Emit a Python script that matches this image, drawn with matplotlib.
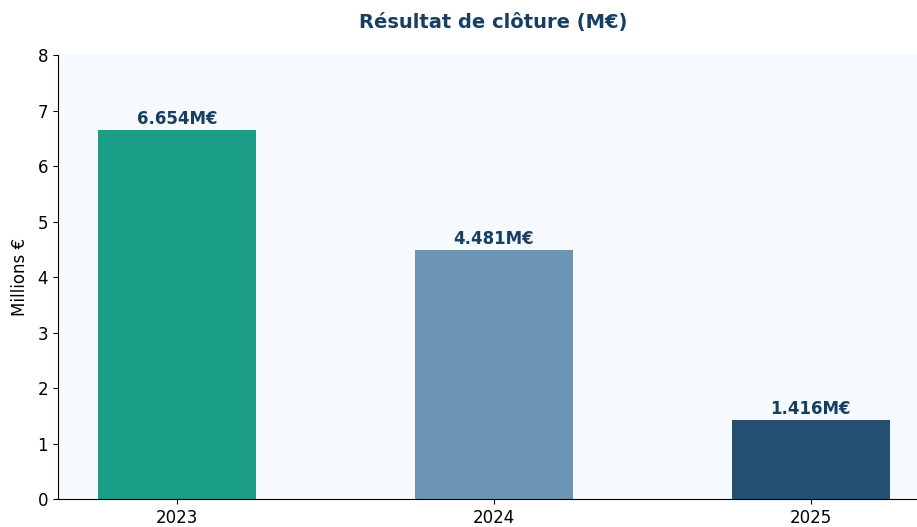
import matplotlib
matplotlib.use("Agg")
import matplotlib.pyplot as plt

# ── Données ─────────────────────────────────────────────────────────────
annees = ["2023", "2024", "2025"]
resultat = [6.654, 4.481, 1.416]
couleurs = ["#1A9E87", "#6B95B2", "#244F71"]

# ── Figure ─────────────────────────────────────────────────────────────
fig = plt.figure(figsize=(9.17, 5.27), dpi=100)
ax = fig.add_axes([0.0632, 0.0531, 0.9507, 0.8425])
ax.set_facecolor("#F6F9FD")

x = range(len(annees))
bars = ax.bar(x, resultat, width=0.5, color=couleurs)
ax.set_xticks(list(x))
ax.set_xticklabels(annees, fontsize=12)
ax.set_xlim(-0.375, 2.375)
ax.set_ylim(0, 8)
ax.tick_params(axis="y", labelsize=12)
ax.set_ylabel("Millions €", fontsize=12, labelpad=6)

for b, v in zip(bars, resultat):
    ax.text(b.get_x() + b.get_width() / 2, v + 0.04, f"{v:.3f}M€",
            ha="center", va="bottom", fontsize=12, fontweight="bold", color="#173F63")

ax.spines["top"].set_visible(False)
ax.spines["right"].set_visible(False)

fig.text(0.538, 0.958, "Résultat de clôture (M€)", ha="center", va="center",
         fontsize=14, fontweight="bold", color="#173F63")

fig.savefig("out.png", dpi=100)
